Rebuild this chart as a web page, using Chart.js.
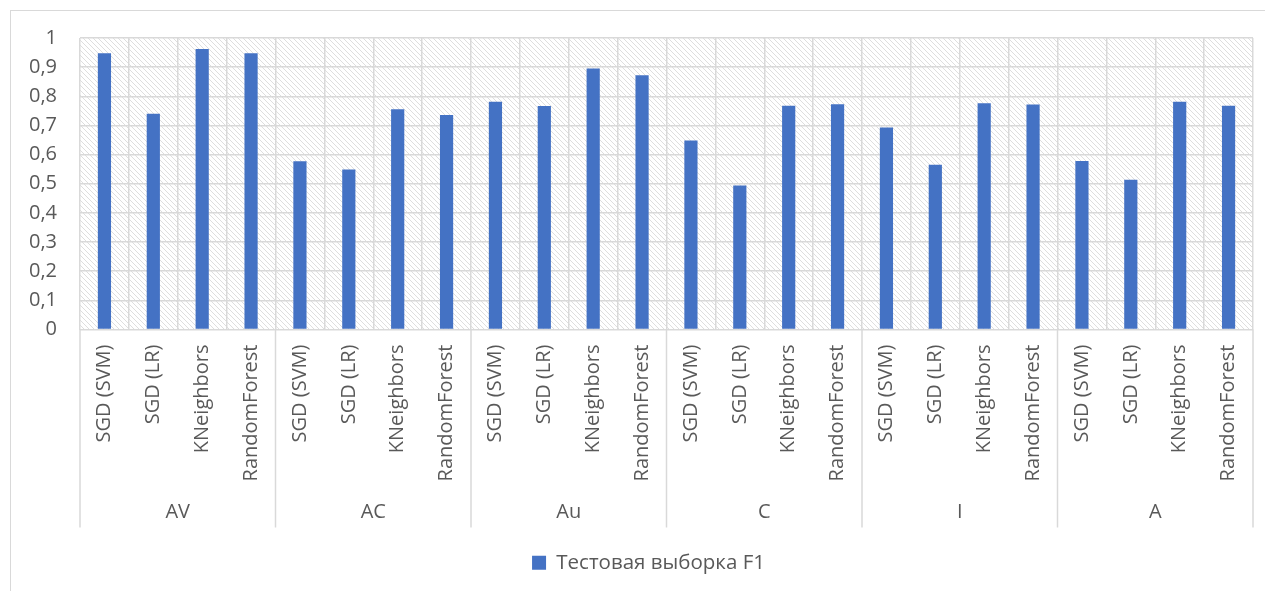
<!DOCTYPE html>
<html>
<head>
<meta charset="utf-8">
<script src="https://cdn.jsdelivr.net/npm/chart.js@4.4.1/dist/chart.umd.min.js"></script>
<style>
  body { margin: 0; background: #fff; overflow: hidden; }
  #frame { position: absolute; left: 10px; top: 10px; width: 1300px; height: 600px; border-left: 1px solid #d9d9d9; border-top: 1px solid #d9d9d9; }
  #myChart { position: absolute; left: 0; top: 0; }
</style>
</head>
<body>
<div id="frame"></div>
<canvas id="myChart" width="1265" height="591"></canvas>
<script>
// models inside each group, group names, F1 per group
const models = ['SGD (SVM)', 'SGD (LR)', 'KNeighbors', 'RandomForest'];
const groups = ['AV', 'AC', 'Au', 'C', 'I', 'A'];
const av = [0.948, 0.74, 0.962, 0.948];
const ac = [0.577, 0.549, 0.756, 0.736];
const au = [0.781, 0.767, 0.895, 0.872];
const c  = [0.648, 0.494, 0.768, 0.773];
const i_ = [0.693, 0.565, 0.776, 0.772];
const a  = [0.578, 0.514, 0.781, 0.768];
const yTicks = ['0', '0,1', '0,2', '0,3', '0,4', '0,5', '0,6', '0,7', '0,8', '0,9', '1'];
const seriesName = 'Тестовая выборка F1';

const labels = [];
groups.forEach(g => models.forEach(m => labels.push(m)));
const values = [].concat(av, ac, au, c, i_, a);

const font = 'Open Sans';
const textColor = '#595959';
const lineColor = '#d9d9d9';

// hatched plot background
function makeHatch(){
  const p = document.createElement('canvas');
  p.width = 5; p.height = 5;
  const g = p.getContext('2d');
  g.fillStyle = '#fff';
  g.fillRect(0, 0, 5, 5);
  g.strokeStyle = '#dedede';
  g.lineWidth = 1;
  g.beginPath();
  g.moveTo(-1, -1); g.lineTo(6, 6);
  g.moveTo(-1, 4); g.lineTo(1, 6);
  g.moveTo(4, -1); g.lineTo(6, 1);
  g.stroke();
  return p;
}

const hatchPlugin = {
  id: 'hatch',
  beforeDraw(chart){
    const {ctx, chartArea} = chart;
    ctx.save();
    ctx.fillStyle = ctx.createPattern(makeHatch(), 'repeat');
    ctx.fillRect(chartArea.left, chartArea.top, chartArea.right - chartArea.left, chartArea.bottom - chartArea.top);
    ctx.restore();
  }
};

// vertical lines between the groups under the plot
const groupLines = {
  id: 'groupLines',
  afterLayout(chart){
    // legend sits centred in the outer frame, not the canvas
    if (chart.legend){
      chart.legend.left += 22;
      chart.legend.right += 22;
    }
  },
  afterDraw(chart){
    const {ctx, chartArea} = chart;
    const x = chart.scales.x;
    const x2 = chart.scales.x2;
    ctx.save();
    ctx.strokeStyle = lineColor;
    ctx.lineWidth = 1.5;
    for (let k = 0; k <= groups.length; k++){
      const px = x.getPixelForValue(k * models.length - 0.5);
      ctx.beginPath();
      ctx.moveTo(px, chartArea.bottom);
      ctx.lineTo(px, x2.bottom);
      ctx.stroke();
    }
    ctx.restore();
  }
};

const ctx = document.getElementById('myChart').getContext('2d');
const myChart = new Chart(ctx, {
  type: 'bar',
  data: {
    labels: labels,
    datasets: [{
      label: seriesName,
      data: values,
      backgroundColor: '#4472C4',
      borderWidth: 0,
      categoryPercentage: 1,
      barPercentage: 0.27
    }]
  },
  options: {
    responsive: false,
    animation: false,
    layout: { padding: { left: 0, right: 12, top: 38, bottom: 8 } },
    plugins: {
      legend: {
        position: 'bottom',
        labels: {
          boxWidth: 14, boxHeight: 14,
          color: textColor,
          font: { family: font, size: 20.5 },
          padding: 25
        }
      },
      tooltip: { enabled: false }
    },
    scales: {
      y: {
        min: 0, max: 1,
        ticks: {
          stepSize: 0.1,
          padding: 23,
          color: textColor,
          font: { family: font, size: 20 },
          callback: (v, idx) => yTicks[idx]
        },
        grid: { color: lineColor, lineWidth: 1.5, drawTicks: false },
        border: { display: false },
        afterFit: s => { s.width = 80; }
      },
      x: {
        ticks: {
          minRotation: 90, maxRotation: 90,
          autoSkip: false,
          padding: 15,
          color: textColor,
          font: { family: font, size: 20 }
        },
        grid: { color: lineColor, lineWidth: 1.5, drawTicks: false, offset: true },
        border: { display: false },
        afterFit: s => { s.height = 165; s.paddingLeft = 0; s.paddingRight = 0; }
      },
      x2: {
        type: 'category',
        position: 'bottom',
        labels: groups,
        offset: true,
        ticks: {
          padding: 6,
          color: textColor,
          font: { family: font, size: 20 }
        },
        grid: { display: false, drawTicks: false },
        border: { display: false },
        afterFit: s => { s.height = 33; s.paddingLeft = 0; s.paddingRight = 0; }
      }
    }
  },
  plugins: [hatchPlugin, groupLines]
});
</script>
</body>
</html>
